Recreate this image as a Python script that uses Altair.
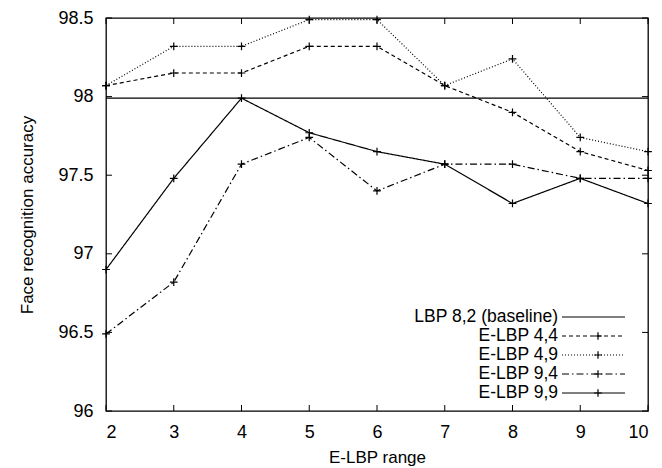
import altair as alt
import pandas as pd

# ---- data ----
ranges = [2, 3, 4, 5, 6, 7, 8, 9, 10]
series_names = ["LBP 8,2 (baseline)", "E-LBP 4,4", "E-LBP 4,9", "E-LBP 9,4", "E-LBP 9,9"]
baseline = [97.99, 97.99, 97.99, 97.99, 97.99, 97.99, 97.99, 97.99, 97.99]
elbp_4_4 = [98.07, 98.15, 98.15, 98.32, 98.32, 98.07, 97.90, 97.65, 97.53]
elbp_4_9 = [98.07, 98.32, 98.32, 98.49, 98.49, 98.07, 98.24, 97.74, 97.65]
elbp_9_4 = [96.49, 96.82, 97.57, 97.74, 97.40, 97.57, 97.57, 97.48, 97.48]
elbp_9_9 = [96.90, 97.48, 97.99, 97.77, 97.65, 97.57, 97.32, 97.48, 97.32]
y_ticks = [96, 96.5, 97, 97.5, 98, 98.5]

all_series = [baseline, elbp_4_4, elbp_4_9, elbp_9_4, elbp_9_9]
rows = []
for name, vals in zip(series_names, all_series):
    for xv, yv in zip(ranges, vals):
        rows.append({"range": xv, "acc": yv, "series": name})
df = pd.DataFrame(rows)
legend_df = pd.DataFrame({"series": series_names})
xtick_df = pd.DataFrame({"range": ranges})
ytick_df = pd.DataFrame({"acc": y_ticks})

FONT = "Liberation Sans"
PLUS = "M-1,0L1,0M0,-1L0,1"
W, H = 542, 393
TICK = 6
x_scale = alt.Scale(domain=[2, 10], nice=False, zero=False)
y_scale = alt.Scale(domain=[96, 98.5], nice=False, zero=False)
dash_scale = alt.Scale(
    domain=series_names,
    range=[[1, 0], [4, 3], [1, 2], [7, 3, 1.5, 3], [1, 0]],
)

lines = alt.Chart(df).mark_line(color="black", strokeWidth=1.2).encode(
    x=alt.X(
        "range:Q", scale=x_scale,
        axis=alt.Axis(orient="bottom", title="E-LBP range", values=ranges, format="d",
                      ticks=False, domain=False, grid=False,
                      labelPadding=12, titlePadding=8),
    ),
    y=alt.Y(
        "acc:Q", scale=y_scale,
        axis=alt.Axis(orient="left", title="Face recognition accuracy", values=y_ticks,
                      format="~g", ticks=False, domain=False, grid=False,
                      labelPadding=13, titlePadding=21),
    ),
    strokeDash=alt.StrokeDash("series:N", scale=dash_scale, legend=None),
    detail="series:N",
)

points = alt.Chart(df).transform_filter(
    alt.datum.series != series_names[0]
).mark_point(
    shape=PLUS, size=60, filled=False, stroke="black", strokeWidth=1.2, opacity=1,
).encode(
    x=alt.X("range:Q", scale=x_scale, axis=None),
    y=alt.Y("acc:Q", scale=y_scale, axis=None),
)

# ---- inward ticks on all four sides (gnuplot-style mirror ticks) ----
tick_mark = dict(color="black", thickness=1, size=TICK, opacity=1)
xt = alt.X("range:Q", scale=x_scale, axis=None)
yt = alt.Y("acc:Q", scale=y_scale, axis=None)
ticks_bottom = alt.Chart(xtick_df).mark_tick(orient="vertical", **tick_mark).encode(
    x=xt, y=alt.value(H - TICK / 2))
ticks_top = alt.Chart(xtick_df).mark_tick(orient="vertical", **tick_mark).encode(
    x=xt, y=alt.value(TICK / 2))
ticks_left = alt.Chart(ytick_df).mark_tick(orient="horizontal", **tick_mark).encode(
    y=yt, x=alt.value(TICK / 2))
ticks_right = alt.Chart(ytick_df).mark_tick(orient="horizontal", **tick_mark).encode(
    y=yt, x=alt.value(W - TICK / 2))

# ---- legend (bottom-right, labels left of the line samples) ----
leg_y = alt.Y("series:N", scale=alt.Scale(type="point", domain=series_names,
                                          range=[299, 375], padding=0), axis=None)
leg_text = alt.Chart(legend_df).mark_text(
    align="right", baseline="middle", font=FONT, fontSize=17.5, color="black",
).encode(x=alt.value(452), y=leg_y, text="series:N")

leg_line = alt.Chart(legend_df).mark_rule(color="black", strokeWidth=1.2).encode(
    x=alt.value(456), x2=alt.value(519), y=leg_y,
    strokeDash=alt.StrokeDash("series:N", scale=dash_scale, legend=None),
)

leg_plus = alt.Chart(legend_df).transform_filter(
    alt.datum.series != series_names[0]
).mark_point(
    shape=PLUS, size=60, filled=False, stroke="black", strokeWidth=1.2, opacity=1,
).encode(x=alt.value(492), y=leg_y)

chart = alt.layer(
    lines, points, ticks_bottom, ticks_top, ticks_left, ticks_right,
    leg_line, leg_plus, leg_text,
).resolve_scale(
    y="independent"
).resolve_axis(
    x="independent", y="independent"
).properties(
    width=W, height=H, background="white",
    autosize=alt.AutoSizeParams(type="none"),
    padding={"left": 106, "top": 18, "right": 14, "bottom": 57},
).configure_view(
    stroke="black", strokeWidth=1.3,
).configure_axis(
    labelFont=FONT, labelFontSize=18, labelColor="black",
    titleFont=FONT, titleFontSize=17, titleFontWeight="normal", titleColor="black",
)

chart.save("out.html", embed_options={"renderer": "svg", "actions": False})
